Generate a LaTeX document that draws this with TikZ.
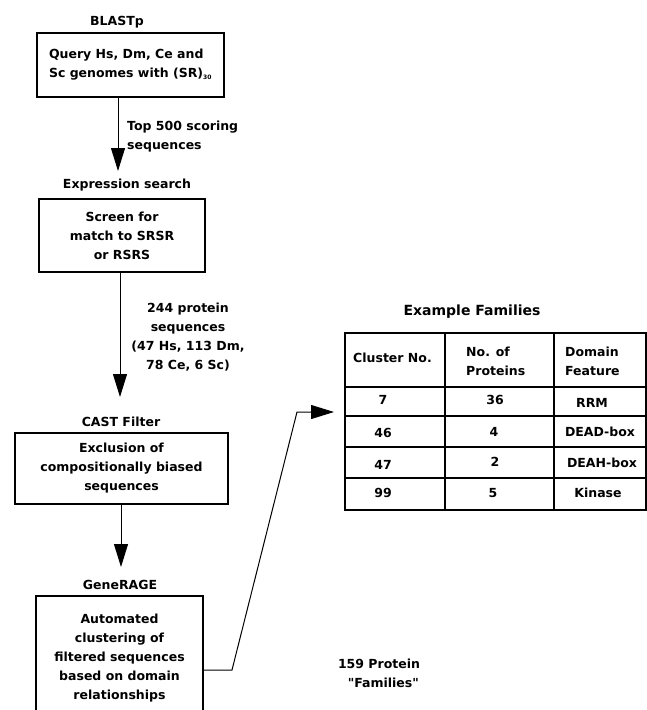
\documentclass[tikz,border=0pt]{standalone}
\usepackage{fontspec}
\setmainfont{DejaVu Sans}[Ligatures=TeXOff]
\usetikzlibrary{arrows.meta}
\begin{document}
\begin{tikzpicture}[x=1pt,y=-1pt,
  font=\bfseries\fontsize{12.5}{19}\selectfont,
  box/.style={draw,line width=1.1pt,inner sep=0pt,align=center},
  lbl/.style={inner sep=0pt,align=center},
  flow/.style={line width=1pt,-{Triangle[width=14pt,length=23pt]}},
  tline/.style={line width=1.4pt}]
\useasboundingbox (0,0) rectangle (647,710);
\clip (0,0) rectangle (647,710);
% labels above boxes
\node[lbl] (t1) at (117,22) {BLASTp};
\node[lbl] (t2) at (127,185) {Expression search};
\node[lbl] (t3) at (121,422) {CAST Filter};
\node[lbl] (t4) at (120,585) {GeneRAGE};
% boxes
\node[box,minimum width=187pt,minimum height=64pt,align=left] (b1) at (130.5,65)
  {Query Hs, Dm, Ce and\\Sc genomes with (SR)\textsubscript{\fontsize{6}{6}\selectfont 30}};
\node[box,minimum width=166pt,minimum height=73pt] (b2) at (122,235.5)
  {Screen for\\match to SRSR\\or RSRS};
\node[box,minimum width=213pt,minimum height=71pt] (b3) at (121.5,468.5)
  {Exclusion of\\compositionally biased\\sequences};
\node[box,minimum width=167pt,minimum height=124pt] (b4) at (119.5,658)
  {Automated\\clustering of\\filtered sequences\\based on domain\\relationships};
% arrow ends
\coordinate (e1) at (118,171);
\coordinate (e2) at (120,397);
\coordinate (e3) at (121,567);
\coordinate (k1) at (232,670);
\coordinate (k2) at (297,412);
\coordinate (e4) at (334,412);
\draw[flow] (b1.south -| e1) -- (e1);
\draw[flow] (b2.south -| e2) -- (e2);
\draw[flow] (b3.south -| e3) -- (e3);
\draw[flow] (b4.east |- k1) -- (k1) -- (k2) -- (e4);
% edge labels
\node[lbl,align=left,anchor=west] (l1) at (127,137) {Top 500 scoring\\sequences};
\node[lbl] (l2) at (188,337) {244 protein\\sequences\\(47 Hs, 113 Dm,\\78 Ce, 6 Sc)};
\node[lbl] (l3) at (379,673) {159 Protein\\\hphantom{1}"Families"};
% table
\node[lbl,font=\bfseries\fontsize{14}{16}\selectfont] (tt) at (472,312) {Example Families};
\node[draw,tline,inner sep=0pt,minimum width=301pt,minimum height=177pt] (tab) at (495.5,421.5) {};
\draw[tline] (345,387) -- (646,387);
\draw[tline] (345,416) -- (646,416);
\draw[tline] (345,447) -- (646,447);
\draw[tline] (345,478) -- (646,478);
\draw[tline] (445,333) -- (445,510);
\draw[tline] (554,333) -- (554,510);
\node[lbl,anchor=west] (h1) at (353,358) {Cluster No.};
\node[lbl,anchor=west,align=left] (h2) at (466,361) {No. of\\Proteins};
\node[lbl,anchor=west,align=left] (h3) at (565,361) {Domain\\Feature};
\node[lbl] (c11) at (383,400) {7};
\node[lbl] (c12) at (495,400) {36};
\node[lbl] (c13) at (592,403) {RRM};
\node[lbl] (c21) at (383,433) {46};
\node[lbl] (c22) at (494,432) {4};
\node[lbl] (c23) at (600,432) {DEAD-box};
\node[lbl] (c31) at (383,465) {47};
\node[lbl] (c32) at (495,462) {2};
\node[lbl] (c33) at (602,463) {DEAH-box};
\node[lbl] (c41) at (383,493) {99};
\node[lbl] (c42) at (493,493) {5};
\node[lbl] (c43) at (598,493) {Kinase};
\end{tikzpicture}
\end{document}
